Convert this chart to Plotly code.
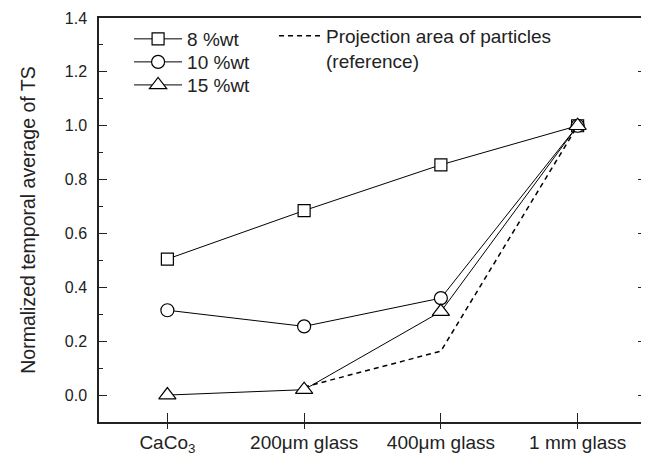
import plotly.graph_objects as go

categories = ["CaCo<sub>3</sub>", "200\u03bcm glass", "400\u03bcm glass", "1 mm glass"]
x_pos = [0, 1, 2, 3]
wt8 = [0.505, 0.685, 0.855, 1.0]
wt10 = [0.315, 0.255, 0.36, 1.0]
wt15 = [0.0, 0.02, 0.31, 1.0]
reference = [None, 0.03, 0.163, 1.0]
y_major = [0, 0.2, 0.4, 0.6, 0.8, 1.0, 1.2, 1.4]
y_minor = [-0.1, 0.1, 0.3, 0.5, 0.7, 0.9, 1.1, 1.3]

FONT = "Liberation Sans, Arial, sans-serif"
INK = "#222"
fig = go.Figure()

fig.add_trace(go.Scatter(
    x=x_pos, y=reference, name="Projection area of particles<br>(reference)",
    mode="lines", line=dict(color="black", width=1.5, dash="5px,4px"),
    legend="legend2", connectgaps=False))

def add(y, name, symbol, size, leg):
    fig.add_trace(go.Scatter(
        x=x_pos, y=y, name=name, mode="lines+markers",
        line=dict(color="black", width=1),
        marker=dict(symbol=symbol, size=size, color="white",
                    line=dict(color="black", width=1.2)),
        legend=leg))

add(wt8, "8 %wt", "square", 12, "legend")
add(wt10, "10 %wt", "circle", 13, "legend3")
add(wt15, "15 %wt", "triangle-up", 15, "legend4")

# invisible helper traces for the secondary axes (extra tick marks only)
fig.add_trace(go.Scatter(x=x_pos, y=wt8, xaxis="x2", mode="none",
                         showlegend=False, hoverinfo="skip"))
fig.add_trace(go.Scatter(x=x_pos, y=wt8, yaxis="y2", mode="none",
                         showlegend=False, hoverinfo="skip"))

leg_common = dict(bgcolor="rgba(0,0,0,0)", font=dict(size=19, color=INK),
                  xanchor="left", itemwidth=48, borderwidth=0)
rows_y = [0.948, 0.891, 0.834]

fig.update_layout(
    width=641, height=449,
    margin=dict(l=91, r=3, t=10, b=35, autoexpand=False),
    paper_bgcolor="white", plot_bgcolor="white",
    font=dict(family=FONT, size=16, color=INK),
    showlegend=True,
    xaxis=dict(range=[-0.5, 3.5], tickmode="array", tickvals=x_pos,
               ticktext=categories, ticks="inside", ticklen=9,
               tickwidth=1.2, tickcolor=INK, ticklabelstandoff=2,
               showline=True, linecolor=INK, linewidth=1.5, mirror=True,
               showgrid=False, zeroline=False, tickfont=dict(size=19)),
    xaxis2=dict(range=[-0.5, 3.5], overlaying="x", tickmode="array",
                tickvals=x_pos, ticks="outside", ticklen=6, tickwidth=1.2,
                tickcolor=INK, showticklabels=False, showgrid=False,
                zeroline=False, showline=False, anchor="y", side="bottom"),
    yaxis=dict(range=[-0.1, 1.4], tickmode="array", tickvals=y_major,
               tickformat=".1f", ticks="inside", ticklen=8, tickwidth=1.2,
               tickcolor=INK, ticklabelstandoff=7,
               minor=dict(tickvals=y_minor, ticks="inside", ticklen=4,
                          tickcolor=INK),
               showline=True, linecolor=INK, linewidth=1.5, mirror=True,
               showgrid=False, zeroline=False, tickfont=dict(size=16),
               title=dict(text="Normalized temporal average of TS",
                          font=dict(size=19.5), standoff=24)),
    yaxis2=dict(range=[-0.1, 1.4], overlaying="y", side="right", anchor="x",
                tickmode="array", tickvals=y_major, ticks="inside", ticklen=8,
                tickwidth=1.2, tickcolor=INK, showticklabels=False,
                minor=dict(tickvals=y_minor, ticks="inside", ticklen=4,
                           tickcolor=INK),
                showline=False, showgrid=False, zeroline=False),
    legend=dict(x=0.055, y=rows_y[0], yanchor="middle", **leg_common),
    legend3=dict(x=0.055, y=rows_y[1], yanchor="middle", **leg_common),
    legend4=dict(x=0.055, y=rows_y[2], yanchor="middle", **leg_common),
    legend2=dict(x=0.32, y=1.003, yanchor="top", valign="top",
                 bgcolor="rgba(0,0,0,0)", font=dict(size=19, color=INK),
                 xanchor="left", itemwidth=42, borderwidth=0),
)

fig.write_html("out.html")
